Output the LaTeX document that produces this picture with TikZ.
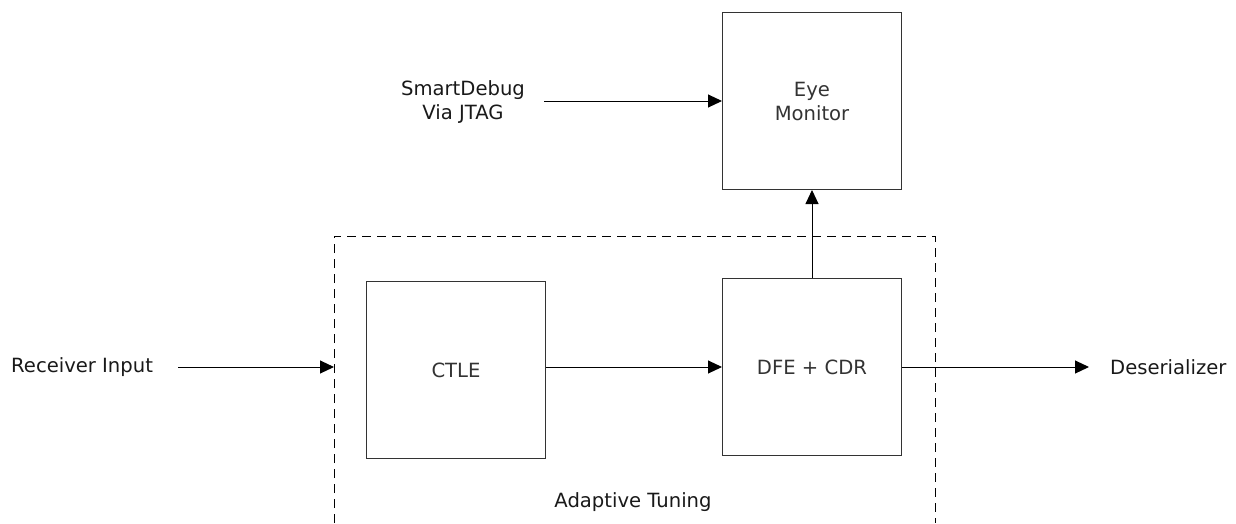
\documentclass[tikz,border=0pt]{standalone}
\usepackage{fontspec}
\setmainfont{DejaVu Sans}
\usetikzlibrary{arrows.meta,positioning}

\begin{document}
\begin{tikzpicture}[x=1pt,y=-1pt]
	\tikzset{every node/.style={font=\fontsize{19.6}{24}\selectfont}}
	\tikzset{block/.style={draw=black!80,line width=1pt,minimum width=179pt,minimum height=177pt,inner sep=0pt,align=center,text=black!80}}
	\tikzset{tag/.style={align=center,inner sep=0pt,text=black!90}}
	\tikzset{link/.style={line width=1pt,-{Triangle[length=14pt,width=13pt]}}}
	\tikzset{tuning/.style={line width=0.9pt,dash pattern=on 9pt off 6pt}}
	\useasboundingbox (0,0) rectangle (1236,523);
	\node[block] (eye) at (812,101) {Eye\\Monitor};
	\node[block] (ctle) at (456,370) {CTLE};
	\node[block] (dfe) at (812,367) {DFE + CDR};
	\node[tag,anchor=west] (rx) at (11,367) {Receiver Input};
	\node[tag,anchor=west] (des) at (1110,367) {Deserializer};
	\node[tag] (jtag) at (463,102) {SmartDebug\\Via JTAG};
	\node[tag] (adapt) at (633,502) {Adaptive Tuning};
	\coordinate (rxout) at (178,367);
	\coordinate (tunein) at (334,367);
	\coordinate (jtagout) at (544,101);
	\coordinate (desin) at (1089,367);
	% adaptive tuning frame, cut at the bottom
	\draw[tuning] (334,523) -- (334,236) -- (935,236) -- (935,523);
	\draw[link] (rxout) -- (tunein);
	\draw[link] (ctle.east |- dfe.west) -- (dfe.west);
	\draw[link] (dfe.east) -- (desin);
	\draw[link] (dfe.north) -- (eye.south);
	\draw[link] (jtagout) -- (eye.west);
\end{tikzpicture}
\end{document}
